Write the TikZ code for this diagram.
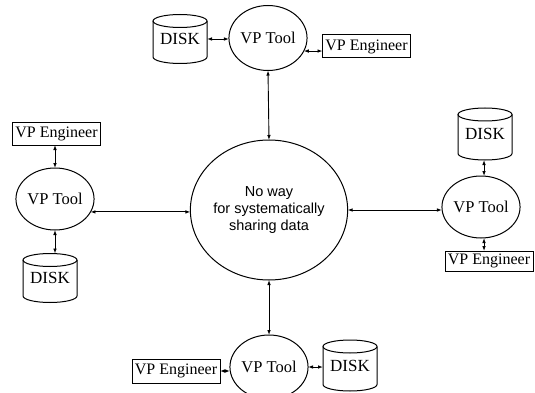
\documentclass[tikz,border=0pt]{standalone}
\usepackage{fontspec}
\setmainfont{Liberation Serif}
\newfontfamily\arialfont{Liberation Sans}
\usetikzlibrary{shapes.geometric,arrows.meta,calc}
\tikzset{
  >={Latex[length=5pt,width=3.6pt]},
  tool/.style={ellipse, draw, line width=1pt, minimum width=62pt, minimum height=65pt, inner sep=0pt, outer sep=0pt, font=\fontsize{16.5}{18}\selectfont},
  engbox/.style={rectangle, draw, line width=1pt, minimum width=88pt, minimum height=23pt, inner sep=1.5pt, outer sep=0pt, font=\fontsize{16}{18}\selectfont},
  diskbox/.style={rectangle, draw=none, minimum width=54pt, minimum height=49pt, inner sep=0pt, outer sep=0pt, font=\fontsize{17}{19}\selectfont},
  hub/.style={ellipse, draw, line width=1pt, minimum width=154pt, minimum height=140pt, inner sep=0pt, outer sep=0pt, align=center, font=\arialfont\fontsize{14.5}{17}\selectfont},
  link/.style={<->, line width=0.9pt},
  diskline/.style={line width=1pt}
}
\newcommand\diskoutline[1]{%
  \draw[diskline] ($(#1.north)+(0,6.5)$) ellipse [x radius=27, y radius=6.5];
  \draw[diskline] ($(#1.north west)+(0,6.5)$) -- ($(#1.south west)+(0,-6.5)$)
     arc[start angle=180, end angle=0, x radius=27, y radius=6.5] -- ($(#1.north east)+(0,6.5)$);
}
\begin{document}
\begin{tikzpicture}[x=1pt, y=-1pt]
\useasboundingbox (0,0) rectangle (535,393);
% hub
\node[hub] (c) at (269,210) {No way\\for systematically\\sharing data};
% top
\node[tool] (t1) at (268,38) {VP Tool};
\node[diskbox] (d1) at (180,39) {\raisebox{-4pt}{DISK}};
\node[engbox] (e1) at (366.5,46.5) {VP Engineer};
% left
\node[tool, minimum height=62pt] (t2) at (55,199) {VP Tool};
\node[engbox, minimum height=22pt] (e2) at (56.5,134) {VP Engineer};
\node[diskbox] (d2) at (50,278) {\raisebox{-4pt}{DISK}};
% right
\node[tool, minimum width=60pt, minimum height=62pt] (t3) at (481,207) {VP Tool};
\node[diskbox, minimum height=52pt] (d3) at (485,134) {\raisebox{-4pt}{DISK}};
\node[engbox, minimum height=20pt] (e3) at (489,261) {VP Engineer};
\coordinate (rx) at (484,0);
% bottom
\node[tool, minimum height=64pt] (t4) at (269,367) {VP Tool};
\node[engbox, minimum height=24pt] (e4) at (176,371) {VP Engineer};
\node[diskbox, minimum height=51pt] (d4) at (350,365.5) {\raisebox{-4pt}{DISK}};
% disk outlines
\diskoutline{d1}
\diskoutline{d2}
\diskoutline{d3}
\diskoutline{d4}
% connectors
\draw[link] (d1.east) -- (d1.east -| t1.west);
\draw[link] (t1.-20) -- (t1.-20 -| e1.west);
\draw[link] (t1.south) -- (c.north);
\draw[link] (e2.south -| t2.north) -- (t2.north);
\draw[link] (t2.south) -- (t2.south |- d2.north);
\draw[link] (t2.-20) -- (t2.-20 -| c.west);
\draw[link] (c.east) -- (c.east -| t3.west);
\draw[link] (d3.south -| rx) -- (t3.north -| rx);
\draw[link] (t3.south -| rx) -- (e3.north -| rx);
\draw[link] (c.south) -- (t4.north);
\draw[link] (e4.east) -- (e4.east -| t4.west);
\draw[link] (t4.east) -- (t4.east -| d4.west);
\end{tikzpicture}
\end{document}
